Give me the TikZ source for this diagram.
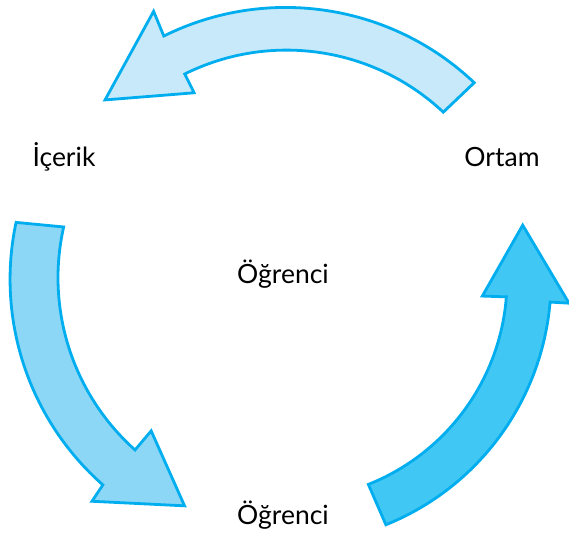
\documentclass[tikz,border=0pt]{standalone}
\usepackage{fontspec}
\setmainfont{Lato}
\definecolor{arrowline}{HTML}{00AEEF}
\definecolor{topfill}{HTML}{C7E9F9}
\definecolor{leftfill}{HTML}{8DD7F6}
\definecolor{rightfill}{HTML}{41C7F4}
\tikzset{
    cyclearrow/.style={draw=arrowline, line width=2.8pt, line join=miter},
    cycletext/.style={anchor=base, inner sep=0pt, font=\fontsize{26.5}{32}\selectfont}
}
\begin{document}
\begin{tikzpicture}[x=1pt,y=1pt]
                \useasboundingbox (0,0) rectangle (569,534);
                % top arrow
                \begin{scope}[shift={(287,254)}]
                    \draw[cyclearrow, fill=topfill] (46.5:272) arc[start angle=46.5, end angle=116.4, radius=274pt]
                        -- (116.4:300) -- (135.3:256) -- (116.4:209) -- (116.4:230)
                        arc[start angle=116.4, end angle=46.8, radius=229pt] -- cycle;
                \end{scope}
                % left arrow
                \begin{scope}[shift={(287,254)}]
                    \draw[cyclearrow, fill=leftfill] (168:277) arc[start angle=168, end angle=228.6, radius=274pt]
                        -- (228.6:295) -- (245.6:248) -- (228.0:203) -- (228.2:228)
                        arc[start angle=228.2, end angle=167.3, radius=231pt] -- cycle;
                \end{scope}
                % right arrow
                \begin{scope}[shift={(287,254)}]
                    \draw[cyclearrow, fill=rightfill] (-68:264) arc[start angle=-68, end angle=-4.8, radius=264pt]
                        -- (-4.7:283) -- (13.1:242) -- (-4.7:196) -- (-4.4:220)
                        arc[start angle=-4.4, end angle=-68.3, radius=220pt] -- cycle;
                \end{scope}
                % texts
                \node[cycletext] (content) at (64,367) {İçerik};
                \node[cycletext] (setting) at (502,367) {Ortam};
                \node[cycletext] (learner) at (283,250) {Öğrenci};
                \node[cycletext] (learnerlow) at (283,9) {Öğrenci};
            \end{tikzpicture}
\end{document}
